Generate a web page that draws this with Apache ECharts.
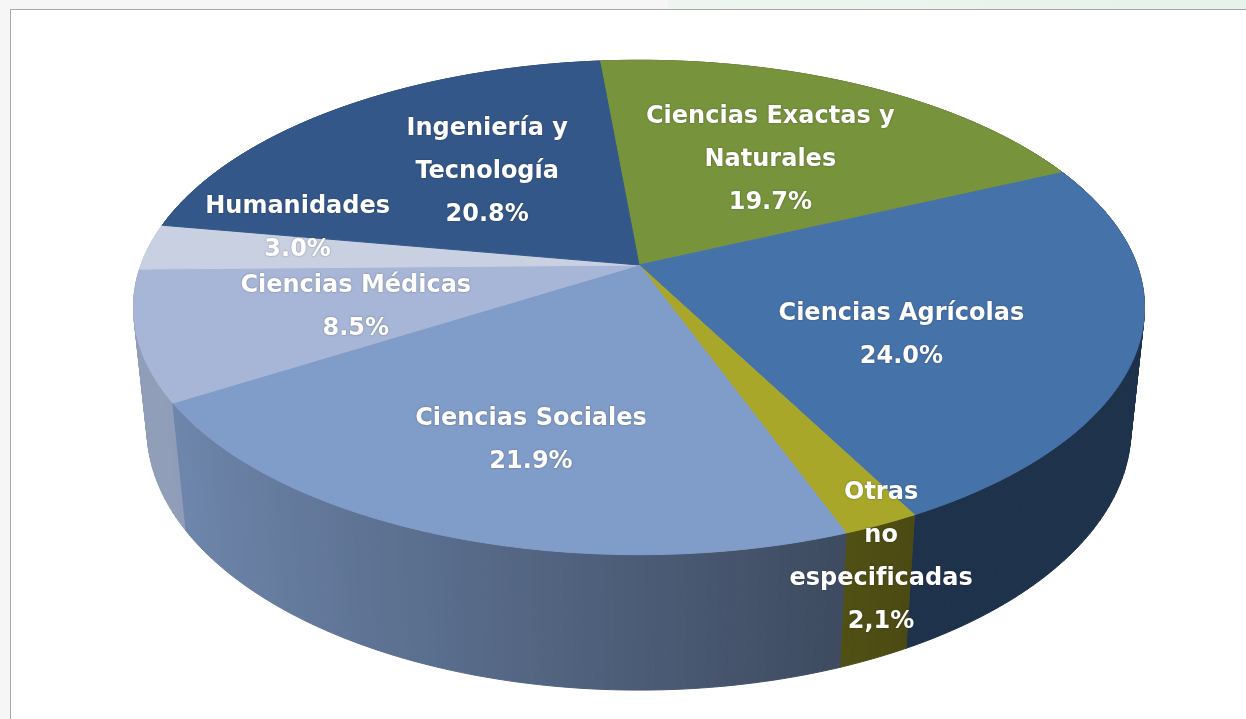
<!DOCTYPE html>
<html lang="es">
<head>
<meta charset="UTF-8">
<script src="https://cdn.jsdelivr.net/npm/echarts@6/dist/echarts.min.js"></script>
<style>
  html, body { margin: 0; padding: 0; background: #fff; }
  #graph { width: 1246px; height: 719px; }
</style>
</head>
<body>
<div id="graph"></div>
<script type="text/javascript">
// datos: distribución por área del conocimiento (%)
var categorias = ['Ciencias Exactas y Naturales', 'Ciencias Agrícolas', 'Otras no especificadas',
                  'Ciencias Sociales', 'Ciencias Médicas', 'Humanidades', 'Ingeniería y Tecnología'];
var porcentajes = [19.7, 24.0, 2.1, 21.9, 8.5, 3.0, 20.8];
var nombres = ['Ciencias Exactas y\nNaturales', 'Ciencias Agrícolas', 'Otras\nno\nespecificadas',
               'Ciencias Sociales', 'Ciencias Médicas', 'Humanidades', 'Ingeniería y\nTecnología'];
var textosPct = ['19.7%', '24.0%', '2,1%', '21.9%', '8.5%', '3.0%', '20.8%'];

// estilo
var colores = ['#77933c', '#4672aa', '#a8a72a', '#809cc8', '#a7b6d6', '#c8d0e2', '#34578a'];
// posición de etiquetas: fracción de radio y ajuste en px
var ajusteEtiqueta = [
  { r: 0.56, dx: 2, dy: 2 },
  { r: 0.54, dx: 0, dy: 27 },
  { r: 1.0, dx: 0, dy: 33 },
  { r: 0.69, dx: 18, dy: -1 },
  { r: 0.58, dx: 2, dy: 2 },
  { r: 0.70, dx: 3, dy: -24 },
  { r: 0.55, dx: 22, dy: -3 }
];

// geometría del pastel 3D (perspectiva)
var CX = 639, CY = 265, F = 498;
var ALFA = 28.8 * Math.PI / 180, DIST = 5.1, ALTO = 0.283;
var INICIO = -5.3; // grados, sentido horario desde el fondo

function proy(X, Y, Z) {
  var zv = Z * Math.cos(ALFA) + Y * Math.sin(ALFA);
  var u = Y * Math.cos(ALFA) - Z * Math.sin(ALFA);
  var s = DIST / (DIST - zv);
  return [CX + F * X * s, CY - F * u * s];
}
function borde(grados, Y) {
  var a = grados * Math.PI / 180;
  return proy(Math.sin(a), Y, -Math.cos(a));
}
function oscurecer(hex, f) {
  var r = parseInt(hex.substr(1, 2), 16), g = parseInt(hex.substr(3, 2), 16), b = parseInt(hex.substr(5, 2), 16);
  return 'rgb(' + Math.round(r * f) + ',' + Math.round(g * f) + ',' + Math.round(b * f) + ')';
}
function sombra(grados) {
  var X = Math.sin(grados * Math.PI / 180);
  var f = 0.48 + (0.35 - X) / 1.2 * 0.38;
  return Math.max(0.44, Math.min(0.87, f));
}

var total = porcentajes.reduce(function (a, b) { return a + b; }, 0);
var inicios = [];
(function () {
  var acc = INICIO;
  porcentajes.forEach(function (v) { inicios.push(acc); acc += v / total * 360; });
})();

function renderItem(params, api) {
  var i = params.dataIndex;
  var ini = inicios[i];
  var fin = ini + api.value(0) / total * 360;
  var col = colores[i];
  var n = Math.max(2, Math.ceil(fin - ini));
  var hijos = [];

  var sup = [proy(0, 0, 0)];
  for (var k = 0; k <= n; k++) sup.push(borde(ini + (fin - ini) * k / n, 0));
  hijos.push({ type: 'polygon', z2: 1000, shape: { points: sup },
               style: { fill: col, stroke: col, lineWidth: 1 } });

  for (var k = 0; k < n; k++) {
    var a = ini + (fin - ini) * k / n, b = ini + (fin - ini) * (k + 1) / n;
    var m = (a + b) / 2;
    var c = oscurecer(col, sombra(m));
    hijos.push({ type: 'polygon', z2: Math.round((1 - Math.cos(m * Math.PI / 180)) * 100),
                 shape: { points: [borde(a, 0), borde(b, 0), borde(b, -ALTO), borde(a, -ALTO)] },
                 style: { fill: c, stroke: c, lineWidth: 1 } });
  }

  var aj = ajusteEtiqueta[i];
  var am = (ini + fin) / 2 * Math.PI / 180;
  var p = proy(aj.r * Math.sin(am), 0, -aj.r * Math.cos(am));
  hijos.push({ type: 'text', z2: 2000,
               style: { text: nombres[i] + '\n' + textosPct[i], x: p[0] + aj.dx, y: p[1] + aj.dy,
                        fill: '#ffffff', fontFamily: 'DejaVu Sans', fontWeight: 'bold', fontSize: 24,
                        lineHeight: 43, align: 'center', verticalAlign: 'middle',
                        textShadowColor: 'rgba(0,0,0,0.35)', textShadowBlur: 2 } });
  return { type: 'group', children: hijos };
}

var mychart = echarts.init(document.getElementById('graph'));
var option = {
  backgroundColor: '#ffffff',
  animation: false,
  graphic: [
    { type: 'rect', shape: { x: 0, y: 0, width: 1246, height: 9 }, style: { fill: '#f6f6f6' } },
    { type: 'rect', shape: { x: 668, y: 0, width: 578, height: 9 },
      style: { fill: new echarts.graphic.LinearGradient(0, 0, 1, 0, [
        { offset: 0, color: '#eef5f0' }, { offset: 1, color: '#e6f2ea' }]) } },
    { type: 'rect', shape: { x: 0, y: 0, width: 10, height: 719 }, style: { fill: '#f6f6f6' } },
    { type: 'line', shape: { x1: 10, y1: 9.5, x2: 1246, y2: 9.5 }, style: { stroke: '#a8a8a8', lineWidth: 1 } },
    { type: 'line', shape: { x1: 10.5, y1: 9, x2: 10.5, y2: 719 }, style: { stroke: '#a8a8a8', lineWidth: 1 } }
  ],
  series: [{
    type: 'custom',
    name: 'Áreas',
    coordinateSystem: 'none',
    silent: true,
    renderItem: renderItem,
    data: porcentajes.map(function (v, i) { return { name: categorias[i], value: [v, i] }; })
  }]
};
mychart.setOption(option, true);
</script>
</body>
</html>
